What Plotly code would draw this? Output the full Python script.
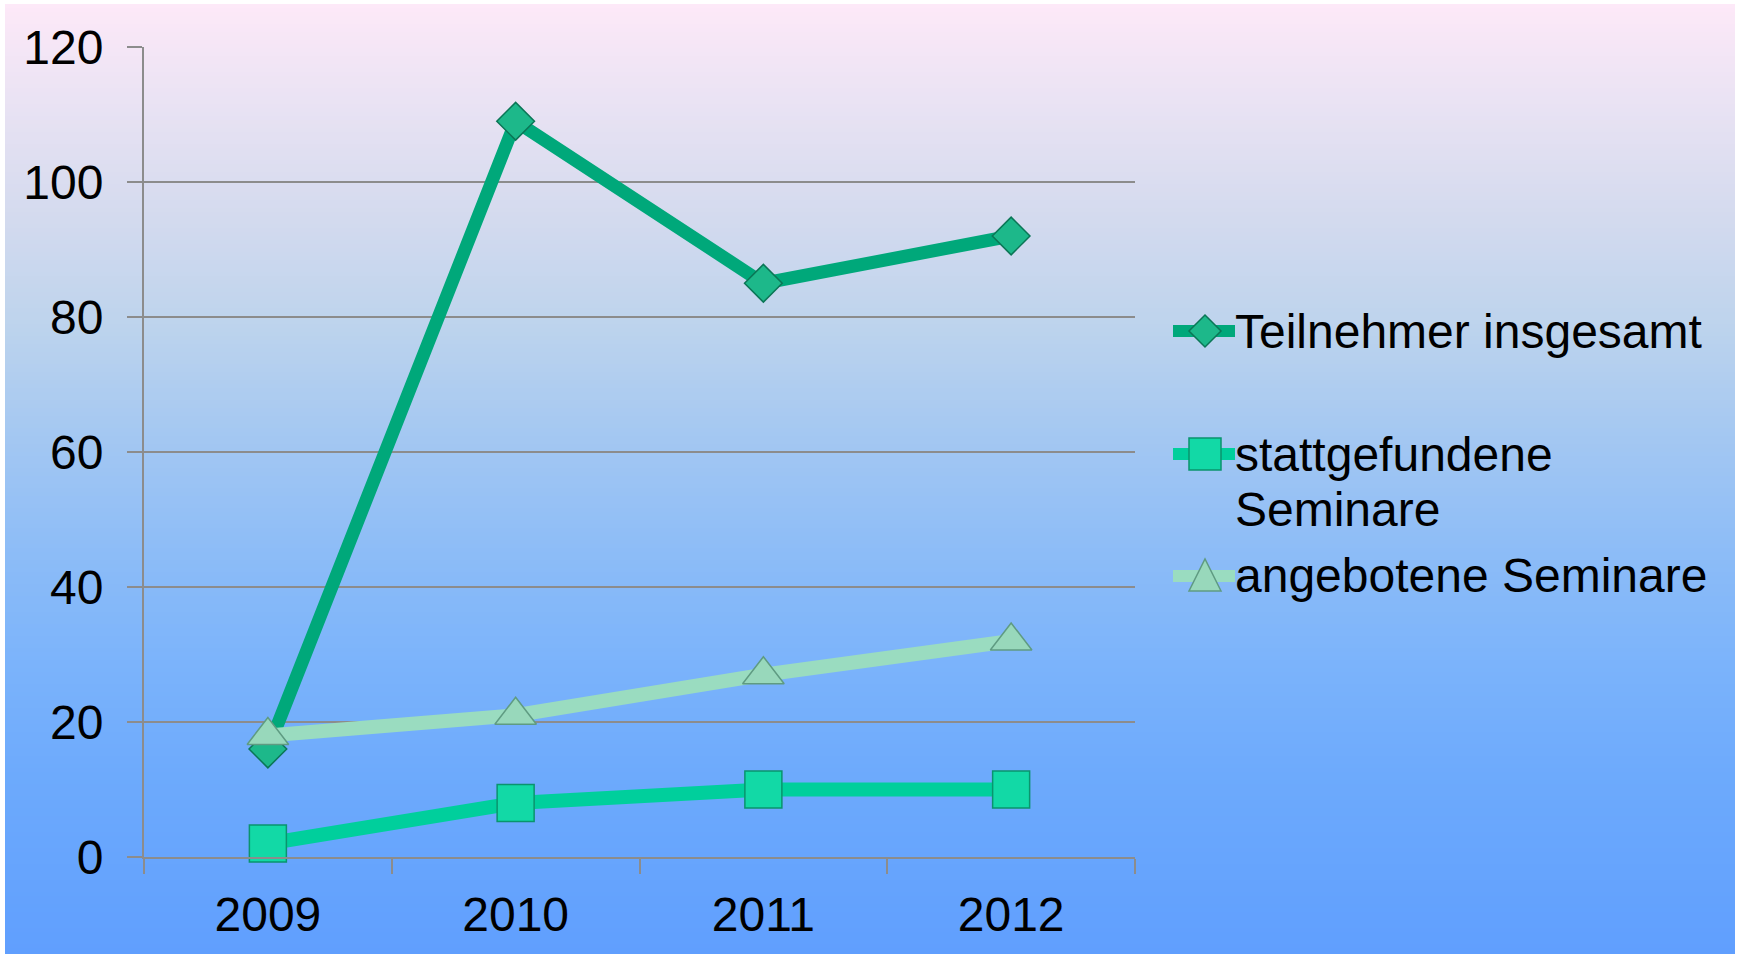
import plotly.graph_objects as go

# ---------------- data ----------------
years = ["2009", "2010", "2011", "2012"]
teilnehmer = [16, 109, 85, 92]
stattgefunden = [2, 8, 10, 10]
angeboten = [18, 21, 27, 32]
series_names = ["Teilnehmer insgesamt", "stattgefundene Seminare", "angebotene Seminare"]
legend_lines = [["Teilnehmer insgesamt"], ["stattgefundene", "Seminare"], ["angebotene Seminare"]]
y_ticks = [0, 20, 40, 60, 80, 100, 120]

# ---------------- layout geometry ----------------
W, H = 1740, 954
ML, MR, MT, MB = 144, 605, 47, 97
PW = W - ML - MR
PH = H - MT - MB


def px_x(x):
    return (x - ML) / PW


def px_y(y):
    return (H - MB - y) / PH


FONT = "Liberation Sans, Arial, sans-serif"
GRID = "#8c8c8c"
C_TEIL, C_STATT, C_ANG = "#00a87a", "#00cf9c", "#9adcc0"
M_TEIL = dict(fill="#1db88a", edge="#0b7656")
M_STATT = dict(fill="#12d9a6", edge="#0a946e")
M_ANG = dict(fill="#98d8bb", edge="#5f9b82")

fig = go.Figure()
fig.add_trace(go.Scatter(
    x=years, y=teilnehmer, name=series_names[0], mode="lines+markers",
    line=dict(color=C_TEIL, width=13),
    marker=dict(symbol="diamond", size=29, color=M_TEIL["fill"], line=dict(color=M_TEIL["edge"], width=1.5)),
    cliponaxis=False, showlegend=False))
fig.add_trace(go.Scatter(
    x=years, y=stattgefunden, name=series_names[1], mode="lines+markers",
    line=dict(color=C_STATT, width=14),
    marker=dict(symbol="square", size=37, color=M_STATT["fill"], line=dict(color=M_STATT["edge"], width=1.5)),
    cliponaxis=False, showlegend=False))
fig.add_trace(go.Scatter(
    x=years, y=angeboten, name=series_names[2], mode="lines+markers",
    line=dict(color=C_ANG, width=14),
    marker=dict(symbol="triangle-up", size=36, color=M_ANG["fill"], line=dict(color=M_ANG["edge"], width=1.5)),
    cliponaxis=False, showlegend=False))

# ---------------- background gradient ----------------
stops = [
    (0, (254, 233, 248)), (110, (232, 226, 243)), (220, (211, 218, 238)),
    (330, (188, 211, 237)), (440, (163, 199, 242)), (555, (140, 188, 247)),
    (665, (123, 179, 251)), (775, (109, 170, 252)), (954, (96, 159, 254)),
]


def grad_color(y):
    for (y0, c0), (y1, c1) in zip(stops[:-1], stops[1:]):
        if y0 <= y <= y1:
            t = (y - y0) / (y1 - y0)
            return "rgb(%d,%d,%d)" % tuple(round(a + (b - a) * t) for a, b in zip(c0, c1))
    return "rgb(%d,%d,%d)" % stops[-1][1]


shapes = []
top, bottom, left, right, step = 4, 954, 5, 1735, 4
y = top
while y < bottom:
    y2 = min(y + step, bottom)
    shapes.append(dict(type="rect", xref="paper", yref="paper", layer="below",
                       x0=px_x(left), x1=px_x(right), y0=px_y(min(y2 + 1, bottom)), y1=px_y(y),
                       fillcolor=grad_color((y + y2) / 2), line=dict(width=0)))
    y = y2

# ---------------- manual legend ----------------
legend_y = [331, 454, 576]
legend_colors = [C_TEIL, C_STATT, C_ANG]
legend_widths = [12, 12, 12]
legend_markers = [
    ("M 0 16 L 16 0 L 0 -16 L -16 0 Z", M_TEIL),
    ("M -16 -16 L 16 -16 L 16 16 L -16 16 Z", M_STATT),
    ("M -16 -15 L 16 -15 L 0 17 Z", M_ANG),
]
annotations = []
for i in range(3):
    yc = legend_y[i]
    shapes.append(dict(type="line", xref="paper", yref="paper",
                       x0=px_x(1173), x1=px_x(1235), y0=px_y(yc), y1=px_y(yc),
                       line=dict(color=legend_colors[i], width=legend_widths[i])))
    path, mk = legend_markers[i]
    shapes.append(dict(type="path", xref="paper", yref="paper",
                       xsizemode="pixel", ysizemode="pixel",
                       xanchor=px_x(1205), yanchor=px_y(yc), path=path,
                       fillcolor=mk["fill"], line=dict(color=mk["edge"], width=1.5)))
    for j, txt in enumerate(legend_lines[i]):
        annotations.append(dict(text=txt, xref="paper", yref="paper",
                                x=px_x(1233), y=px_y(yc + 55 * j), xanchor="left", yanchor="middle",
                                showarrow=False, font=dict(family=FONT, size=48, color="black")))

fig.update_layout(
    width=W, height=H,
    margin=dict(l=ML, r=MR, t=MT, b=MB, pad=0),
    paper_bgcolor="white", plot_bgcolor="rgba(0,0,0,0)",
    font=dict(family=FONT, size=48, color="black"),
    showlegend=False,
    shapes=shapes, annotations=annotations,
    xaxis=dict(type="category", categoryarray=years, range=[-0.5, 3.5],
               tickson="boundaries", ticks="outside", ticklen=15, tickwidth=2, tickcolor=GRID,
               showline=True, linecolor=GRID, linewidth=2, showgrid=False, zeroline=False,
               tickfont=dict(family=FONT, size=48, color="black"), ticklabelstandoff=14),
    yaxis=dict(range=[0, 120], tickvals=y_ticks, ticks="outside", ticklen=15, tickwidth=2,
               tickcolor=GRID, showline=True, linecolor=GRID, linewidth=2,
               showgrid=True, gridcolor=GRID, gridwidth=2, zeroline=False,
               tickfont=dict(family=FONT, size=48, color="black"), ticklabelstandoff=14),
)

fig.write_html("out.html", config={"displayModeBar": False},
               post_script="document.body.style.margin='0px';")
